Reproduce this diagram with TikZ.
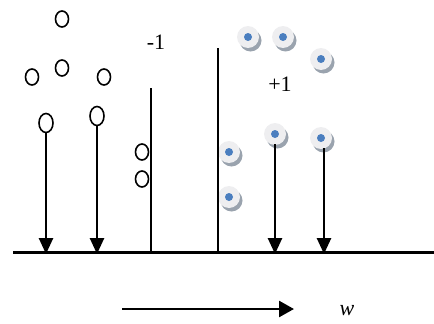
\documentclass[tikz,border=0pt]{standalone}
\usepackage{fontspec}
\setmainfont{Liberation Serif}
\usetikzlibrary{arrows.meta,shapes.geometric}
\definecolor{dotblue}{HTML}{4A7EBF}
\definecolor{discgray}{HTML}{EEEEF0}
\definecolor{shadowgray}{HTML}{9AA3AE}
\tikzset{
  opendot/.style={draw=black, line width=1.6pt, ellipse, minimum width=13pt, minimum height=16pt, inner sep=0pt},
  bigopen/.style={draw=black, line width=1.6pt, ellipse, minimum width=14pt, minimum height=19pt, inner sep=0pt},
  discdot/.style={circle, fill=discgray, minimum size=22pt, inner sep=0pt,
     path picture={\fill[dotblue] (path picture bounding box.center) circle (4pt);}},
  discshadow/.style={circle, fill=shadowgray, minimum size=22pt, inner sep=0pt},
  stem/.style={line width=2.6pt, -{Triangle[length=16pt,width=14pt]}},
  sep/.style={line width=1.6pt},
  lab/.style={font=\fontsize{22}{22}\selectfont, inner sep=0pt}
}
\begin{document}
\begin{tikzpicture}[x=1pt,y=-1pt]
\useasboundingbox (0,0) rectangle (434,324);
% open circles (-1 class)
\node[opendot] (o1) at (62,19) {};
\node[opendot] (o2) at (62,68) {};
\node[opendot] (o3) at (32,77) {};
\node[opendot] (o4) at (104,77) {};
\node[bigopen] (o5) at (46,123) {};
\node[bigopen] (o6) at (97,116) {};
\node[opendot] (o7) at (142,152) {};
\node[opendot] (o8) at (142,179) {};
% filled discs (+1 class)
\foreach \n/\x/\y in {p1/248/37, p2/283/37, p3/321/59, p4/229/152, p5/275/134, p6/321/138, p7/229/197}{
  \node[discshadow] at (\x+2.5,\y+3.5) {};
  \node[discdot] (\n) at (\x,\y) {};
}
% baseline
\coordinate (bl) at (13,252.5);
\coordinate (br) at (434,252.5);
\draw[line width=2.6pt] (bl) -- (br);
% projections
\coordinate (a5) at (46,254);
\coordinate (a6) at (97,254);
\coordinate (b5) at (275,254);
\coordinate (b6) at (324,254);
\draw[stem] (o5.south) -- (a5);
\draw[stem] (o6.south) -- (a6);
\draw[stem] ([yshift=1pt]p5.south) -- (b5);
\draw[stem] ([xshift=3pt,yshift=1pt]p6.south) -- (b6);
% separating lines
\coordinate (s1t) at (151,88);
\coordinate (s1b) at (151,252.5);
\coordinate (s2t) at (218,48);
\coordinate (s2b) at (218,252.5);
\draw[sep] (s1t) -- (s1b);
\draw[sep] (s2t) -- (s2b);
% labels
\node[lab] (m1) at (156,42) {-1};
\node[lab] (pl) at (280,84) {+1};
% w arrow
\coordinate (wa) at (122,309);
\coordinate (wb) at (294,309);
\draw[line width=2.6pt, -{Triangle[length=15pt,width=16pt]}] (wa) -- (wb);
\node[lab, font=\fontsize{22}{22}\selectfont\itshape] (w) at (347,311) {w};
\end{tikzpicture}
\end{document}
